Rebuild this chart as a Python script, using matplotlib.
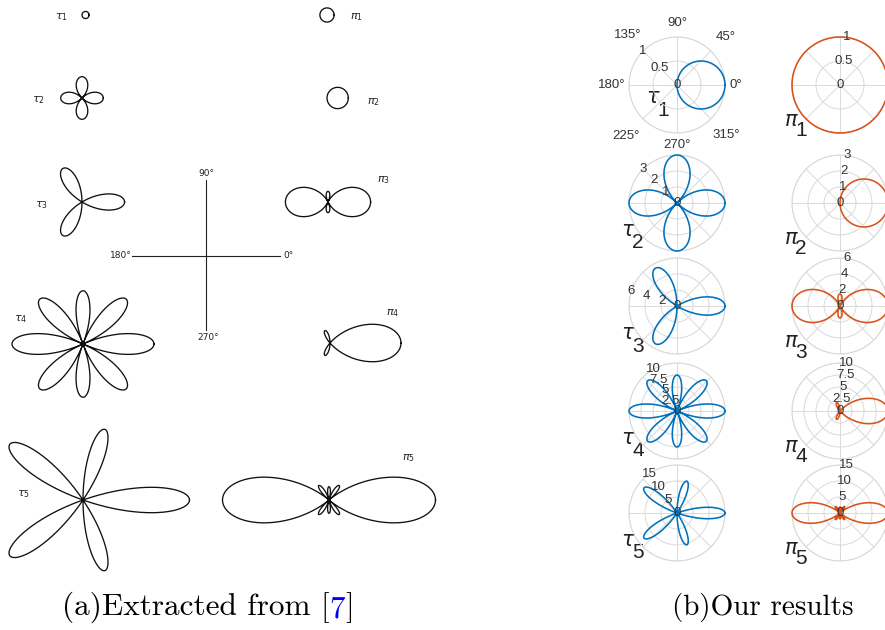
import numpy as np
import matplotlib
matplotlib.use("Agg")
import matplotlib.pyplot as plt

# ---------------- data: angular functions as polynomial coefficients in mu=cos(theta)
# (highest power first), read from the plotted shapes / peak values
tau1 = [1.0, 0.0]
tau2 = [6.0, 0.0, -3.0]
tau3 = [22.5, 0.0, -16.5, 0.0]
tau4 = [70.0, 0.0, -67.5, 0.0, 7.5]
tau5 = [196.875, 0.0, -236.25, 0.0, 54.375, 0.0]
pi1 = [1.0]
pi2 = [3.0, 0.0]
pi3 = [7.5, 0.0, -1.5]
pi4 = [17.5, 0.0, -7.5, 0.0]
pi5 = [39.375, 0.0, -26.25, 0.0, 1.875]

tau_names = ["1", "2", "3", "4", "5"]
pi_names = ["1", "2", "3", "4", "5"]

rticks_list = [[0, 0.5, 1], [0, 1, 2, 3], [0, 2, 4, 6], [0, 2.5, 5, 7.5, 10], [0, 5, 10, 15]]
rtick_labels_list = [["0", "0.5", "1"], ["0", "1", "2", "3"], ["0", "2", "4", "6"],
                     ["0", "2.5", "5", "7.5", "10"], ["0", "5", "10", "15"]]
theta_ticks_deg = [0, 45, 90, 135, 180, 225, 270, 315]
theta_tick_labels = ["0°", "45°", "90°", "135°", "180°", "225°", "270°", "315°"]

cap_a = "(a)Extracted from ["
cap_ref = "7"
cap_a_end = "]"
cap_b = "(b)Our results"

BLUE = "#0072BD"
ORANGE = "#D95319"
GRID = "#d9d9d9"
TXT = "#333333"

taus = [tau1, tau2, tau3, tau4, tau5]
pis = [pi1, pi2, pi3, pi4, pi5]


def curve(coeffs):
    # odd polynomials retrace themselves after half a turn
    stop = np.pi if len(coeffs) % 2 == 0 else 2 * np.pi
    th = np.linspace(0, stop, 2500)
    return th, np.polyval(coeffs, np.cos(th))


fig = plt.figure(figsize=(8.85, 6.3), dpi=100)
fig.patch.set_facecolor("white")

# ---------------- panel (a): scanned-style drawing in pixel coordinates
bg = fig.add_axes([0, 0, 1, 1])
bg.set_xlim(0, 885)
bg.set_ylim(630, 0)
bg.axis("off")

s = 7.1  # px per unit
tau_origins = [(82, 15), (82, 98), (82, 202), (83, 344), (83, 500)]
pi_origins = [(327, 15), (327, 98), (328, 202), (330, 343), (329, 500)]
tau_lab_a = [(61, 17), (38, 100), (41, 205), (21, 319), (23, 494)]
pi_lab_a = [(356, 17), (373, 102), (383, 180), (393, 313), (408, 458)]

for coeffs, (cx, cy) in zip(taus + pis, tau_origins + pi_origins):
    th, r = curve(coeffs)
    bg.plot(cx + s * r * np.cos(th), cy - s * r * np.sin(th), color="#111111", lw=0.95)

for n, (x, y) in zip(tau_names, tau_lab_a):
    bg.text(x, y, r"$\tau_{%s}$" % n, fontsize=8, ha="center", va="center", color="#222222")
for n, (x, y) in zip(pi_names, pi_lab_a):
    bg.text(x, y, r"$\pi_{%s}$" % n, fontsize=8, ha="center", va="center", color="#222222")

# axes cross
bg.plot([206, 206], [180, 330], color="#222222", lw=0.8)
bg.plot([132, 280], [256, 256], color="#222222", lw=0.8)
for txt, (x, y) in zip(["90°", "180°", "0°", "270°"], [(206, 173), (121, 256), (289, 256), (208, 338)]):
    bg.text(x, y, txt, fontsize=6.5, ha="center", va="center", color="#222222")

# ---------------- panel (b): polar plots
W, H = 885.0, 630.0
R = 48.0
row_y = [85, 203, 306, 411, 513]
col_x = [677, 840]
tau_rlabel_pos = [135, 135, 162, 120, 125]
pi_rlabel_pos = [82, 82, 82, 82, 82]
theta_label_dist = [1.23, 1.42, 1.29, 1.46, 1.35, 1.5, 1.25, 1.46]


def polar_panel(cx, cy, coeffs, color, rticks, rlabels, rpos, show_theta):
    ax = fig.add_axes([(cx - R) / W, 1 - (cy + R) / H, 2 * R / W, 2 * R / H], projection="polar")
    th, r = curve(coeffs)
    th2 = np.where(r < 0, th + np.pi, th)
    ax.plot(th2, np.abs(r), color=color, lw=1.15, clip_on=False, zorder=5)
    rmax = rticks[-1]
    ax.set_ylim(0, rmax)
    ax.set_yticks(rticks)
    ax.set_yticklabels([])
    ax.set_xticks(np.deg2rad(theta_ticks_deg))
    ax.set_xticklabels([])
    for rv, lab in zip(rticks, rlabels):
        ax.text(np.deg2rad(rpos), rv, lab, fontsize=9.5, color=TXT, family="Liberation Sans",
                ha="center", va="center", clip_on=False, zorder=6)
    if show_theta:
        for d, lab, f in zip(theta_ticks_deg, theta_tick_labels, theta_label_dist):
            ax.text(np.deg2rad(d), f * rmax, lab, fontsize=9.5, color=TXT, family="Liberation Sans",
                    ha="center", va="center", clip_on=False)
    ax.grid(color=GRID, lw=0.7)
    ax.spines["polar"].set_color(GRID)
    ax.spines["polar"].set_linewidth(0.8)
    ax.set_facecolor("none")
    return ax


for i in range(5):
    polar_panel(col_x[0], row_y[i], taus[i], BLUE, rticks_list[i], rtick_labels_list[i],
                tau_rlabel_pos[i], i == 0)
    polar_panel(col_x[1], row_y[i], pis[i], ORANGE, rticks_list[i], rtick_labels_list[i],
                pi_rlabel_pos[i], False)

# labels tau_n / pi_n for panel (b)
for i in range(5):
    cy = row_y[i]
    if i == 0:
        tx, ty = col_x[0] - 24, cy + 12
    else:
        tx, ty = col_x[0] - 49, cy + 27
    bg.text(tx, ty, "τ", fontsize=15, ha="center", va="center", color="#222222", style="italic")
    bg.text(tx + 10, ty + 13, tau_names[i], fontsize=15, ha="center", va="center", color="#222222",
            family="Liberation Sans")
    px, py = col_x[1] - 49, cy + 35
    bg.text(px, py, "π", fontsize=15, ha="center", va="center", color="#222222", style="italic")
    bg.text(px + 10, py + 11, pi_names[i], fontsize=15, ha="center", va="center", color="#222222",
            family="Liberation Sans")

# ---------------- captions
t1 = bg.text(62, 615, cap_a, fontsize=22.5, family="cmr10", ha="left", va="baseline", color="black")
t2 = bg.annotate(cap_ref, xy=(1, 0), xycoords=t1, fontsize=22.5, family="cmr10", ha="left",
                 va="bottom", color="#0000ff")
bg.annotate(cap_a_end, xy=(1, 0), xycoords=t2, fontsize=22.5, family="cmr10", ha="left",
            va="bottom", color="black")
bg.text(672, 615, cap_b, fontsize=21, family="cmr10", ha="left", va="baseline", color="black")

fig.savefig("out.png", dpi=100, facecolor="white")
